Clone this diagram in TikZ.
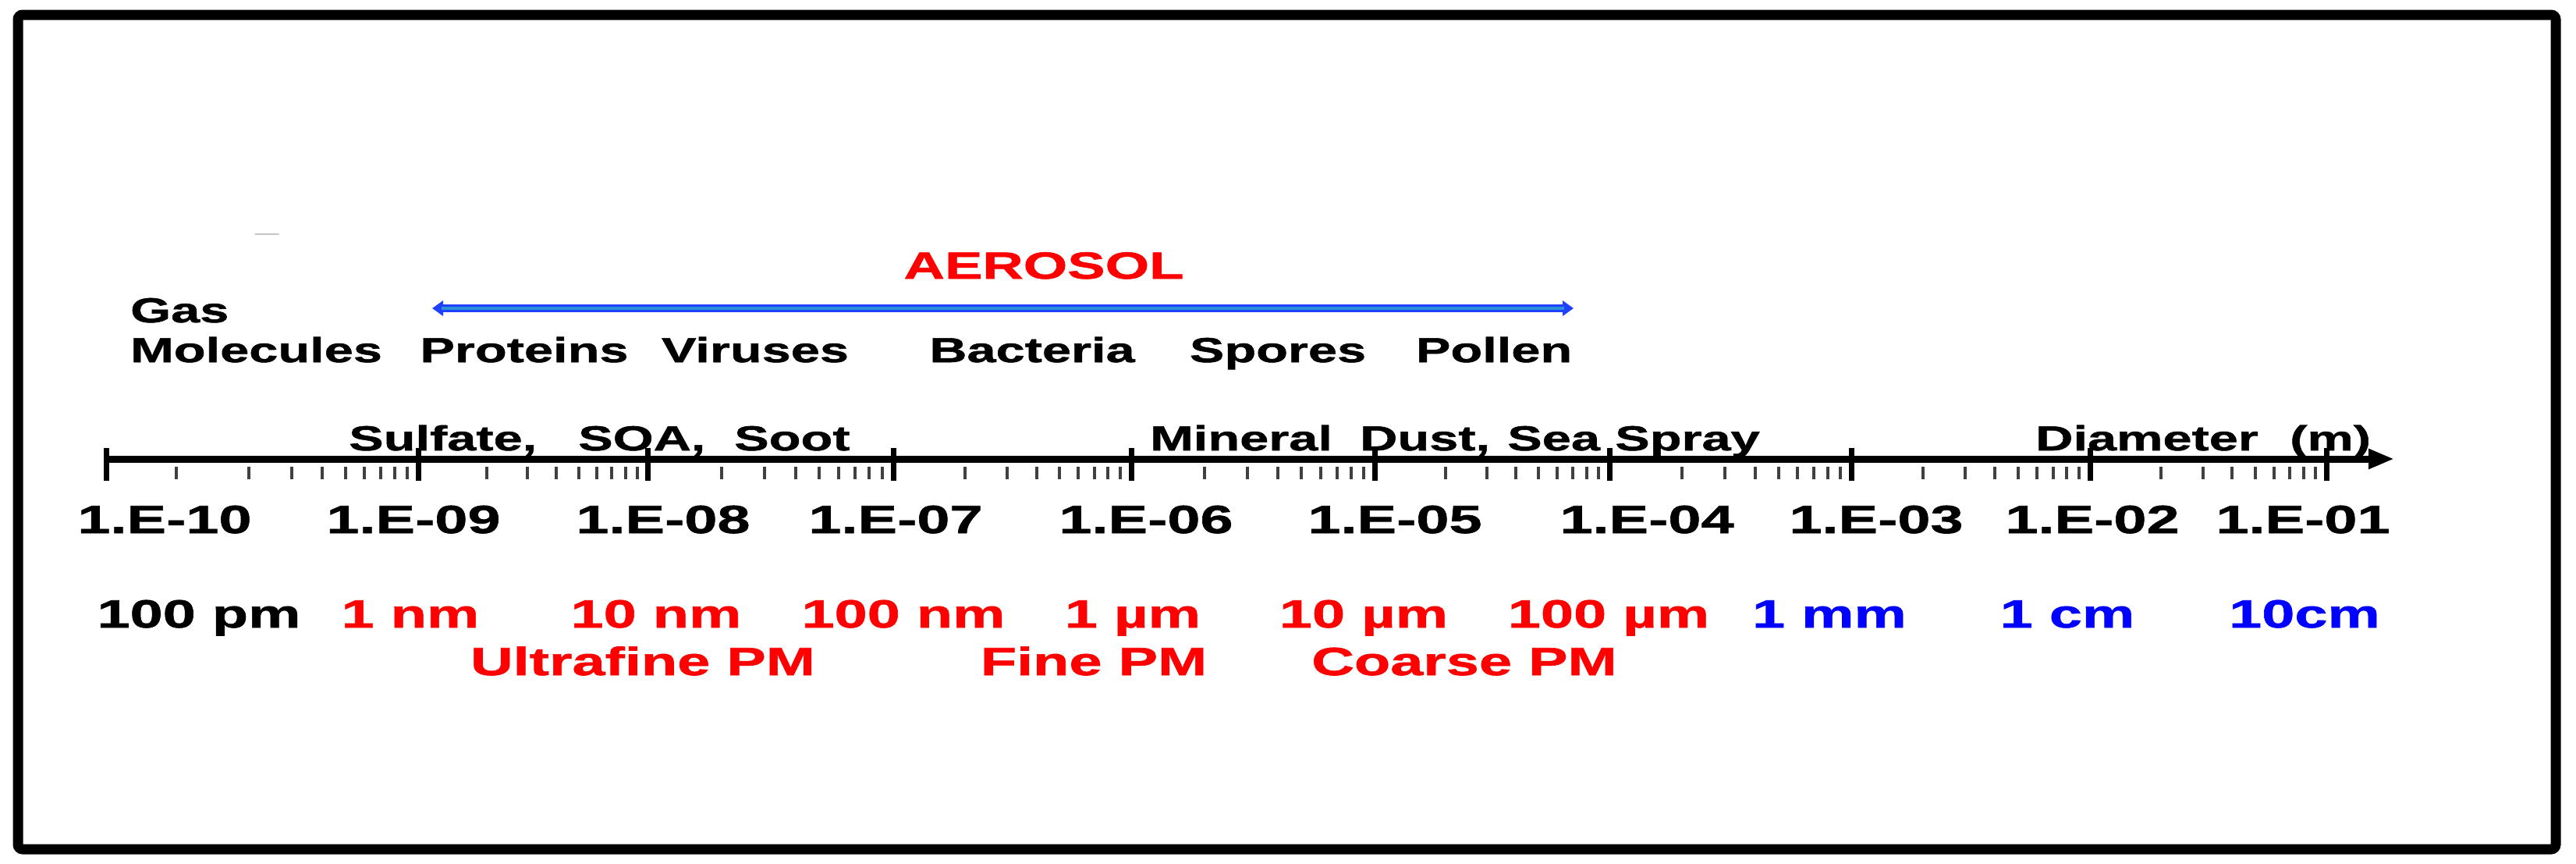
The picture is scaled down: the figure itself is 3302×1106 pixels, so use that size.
\documentclass[tikz,border=0pt]{standalone}
\usepackage{fontspec}
\newfontfamily\lbf{Liberation Sans Bold}[FakeStretch=1.5,FakeBold=1.2]
\usetikzlibrary{arrows.meta}
\definecolor{aeroblue}{HTML}{2040FF}
\definecolor{aerocyan}{HTML}{2A90D8}
\definecolor{pmred}{HTML}{FF0000}
\definecolor{szblue}{HTML}{0000FF}
\begin{document}
\begin{tikzpicture}[x=1pt,y=-1pt,
  lab/.style={inner sep=0pt, anchor=base, font=\lbf\fontsize{50.5}{60}\selectfont},
  wordw/.style={inner sep=0pt, anchor=base west, font=\lbf\fontsize{44.5}{54}\selectfont},
  wordc/.style={inner sep=0pt, anchor=base, font=\lbf\fontsize{44.5}{54}\selectfont},
  title/.style={inner sep=0pt, anchor=base, text=pmred, font=\lbf\fontsize{48.4}{58}\selectfont},
  majortick/.style={line width=7pt},
  minortick/.style={line width=4pt, black!75},
  frame/.style={line width=13pt, rounded corners=6pt},
]
\useasboundingbox (0,0) rectangle (3302,1106);
\draw[frame] (23,19) rectangle (3276,1088);

% faint smudge
\draw[gray!45, line width=2pt, line cap=round] (327,300) -- (357,300);

% axis
\coordinate (axL) at (136,588);
\coordinate (axR) at (3069,588);
\draw[line width=9pt, -{Triangle[length=33pt,width=24pt]}] (axL) -- (axR);
\foreach \x in {136,536,830,1145,1450,1762,2063,2373,2679,2982}
  \draw[majortick] (\x,574) -- (\x,616);
\foreach \a/\b in {226/536,536/830,830/1145,1145/1450,1450/1762,1762/2063,2063/2373,2373/2679,2679/2982} {
  \foreach \k in {2,...,9} {
    \pgfmathsetmacro\xx{\a+log10(\k)*(\b-\a)}
    \draw[minortick] (\xx,598) -- (\xx,614);
  }
}
\draw[minortick] (226,598) -- (226,614);

% aerosol arrow
\node[title] (aero) at (1338,357) {AEROSOL};
\coordinate (aL) at (554,395);
\coordinate (aR) at (2017,395);
\draw[aeroblue, line width=10pt, {Triangle[length=14pt,width=19pt]}-{Triangle[length=14pt,width=19pt]}] (aL) -- (aR);
\draw[aerocyan, line width=3.5pt, shorten <=12pt, shorten >=12pt] (aL) -- (aR);

% top labels
\node[wordw] (gas) at (167,413) {Gas};
\node[wordw] (mol) at (167,464) {Molecules};
\node[wordc] (prot) at (672,464) {Proteins};
\node[wordc] (vir) at (968,464) {Viruses};
\node[wordc] (bac) at (1323,464) {Bacteria};
\node[wordc] (spo) at (1638,464) {Spores};
\node[wordc] (pol) at (1915,464) {Pollen};

% labels above axis
\node[wordw] (sul) at (447,577) {Sulfate,};
\node[wordw] (soa) at (741,577) {SOA,};
\node[wordw] (soot) at (941,577) {Soot};
\node[wordw] (min) at (1474,577) {Mineral};
\node[wordw] (dust) at (1743,577) {Dust,};
\node[wordw] (sea) at (1932,577) {Sea};
\node[wordw] (spr) at (2070,577) {Spray};
\node[wordw] (dia) at (2609,577) {Diameter};
\node[wordw] (unit) at (2935,577) {(m)};

% numeric labels
\node[lab] (e10) at (211,683) {1.E-10};
\node[lab] (e09) at (530,683) {1.E-09};
\node[lab] (e08) at (850,683) {1.E-08};
\node[lab] (e07) at (1148,683) {1.E-07};
\node[lab] (e06) at (1469,683) {1.E-06};
\node[lab] (e05) at (1788,683) {1.E-05};
\node[lab] (e04) at (2111,683) {1.E-04};
\node[lab] (e03) at (2405,683) {1.E-03};
\node[lab] (e02) at (2682,683) {1.E-02};
\node[lab] (e01) at (2952,683) {1.E-01};

% size labels
\node[lab] (u1) at (255,804) {100 pm};
\node[lab, text=pmred] (u2) at (526,804) {1 nm};
\node[lab, text=pmred] (u3) at (841,804) {10 nm};
\node[lab, text=pmred] (u4) at (1158,804) {100 nm};
\node[lab, text=pmred] (u5) at (1452,804) {1 µm};
\node[lab, text=pmred] (u6) at (1748,804) {10 µm};
\node[lab, text=pmred] (u7) at (2062,804) {100 µm};
\node[lab, text=szblue] (u8) at (2345,804) {1 mm};
\node[lab, text=szblue] (u9) at (2650,804) {1 cm};
\node[lab, text=szblue] (u10) at (2954,804) {10cm};

% PM classes
\node[lab, text=pmred] (pm1) at (824,865) {Ultrafine PM};
\node[lab, text=pmred] (pm2) at (1402,865) {Fine PM};
\node[lab, text=pmred] (pm3) at (1877,865) {Coarse PM};
\end{tikzpicture}
\end{document}
